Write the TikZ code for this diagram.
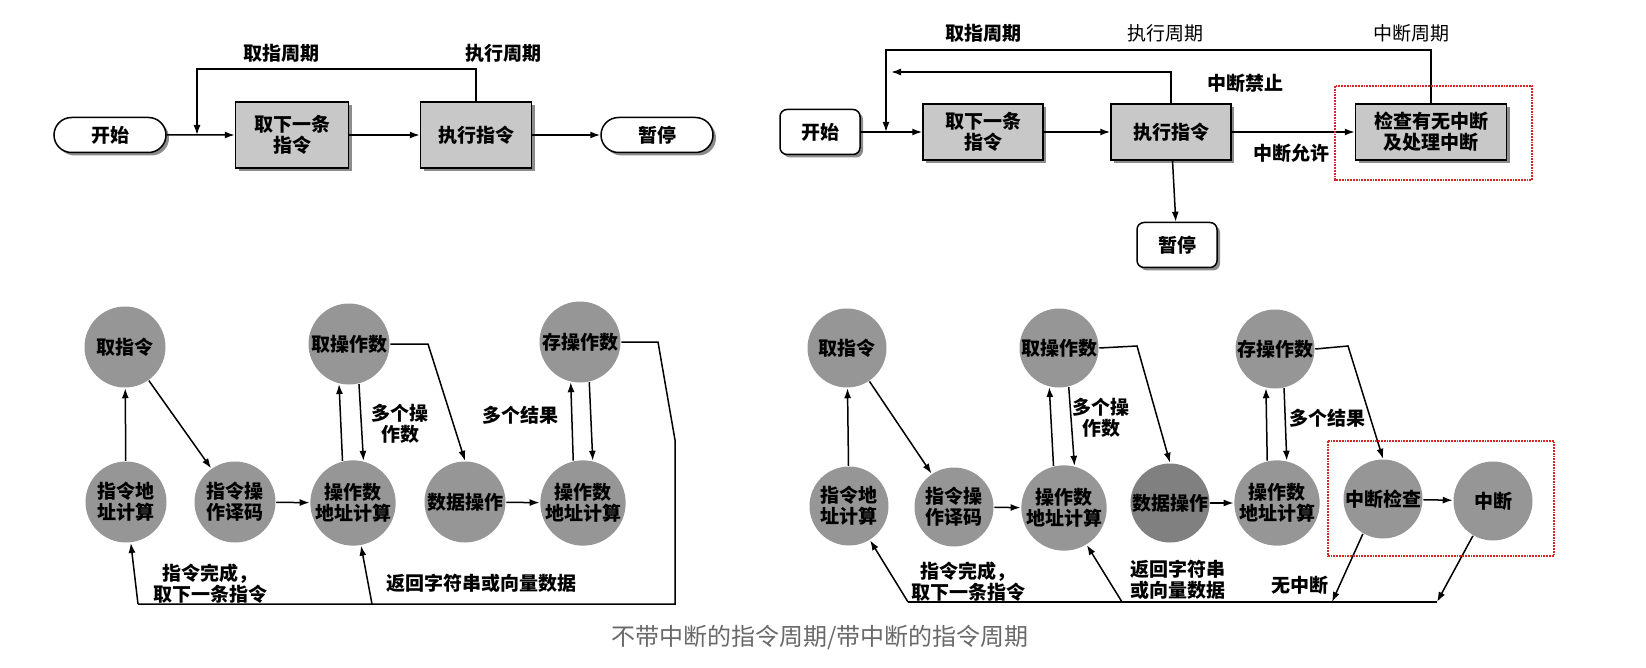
\documentclass[tikz,border=0pt]{standalone}
\usepackage{fontspec}
\newfontfamily\cjk{Noto Sans CJK SC}
\usetikzlibrary{arrows.meta,shapes.misc,shadows}
\definecolor{boxgray}{RGB}{200,200,200}
\definecolor{circgray}{RGB}{150,150,150}
\definecolor{circdark}{RGB}{128,128,128}
\definecolor{dotred}{RGB}{210,40,40}
\definecolor{capgray}{RGB}{105,105,105}

\begin{document}
\begin{tikzpicture}[x=1pt,y=-1pt,>={Latex[length=10pt,width=7pt]},line width=1.5pt,
  txt/.style={font=\cjk\bfseries\fontsize{19}{21}\selectfont,align=center,inner sep=0pt},
  thintxt/.style={font=\cjk\fontsize{19}{21}\selectfont,align=center,inner sep=0pt},
  shadowed/.style={drop shadow={shadow xshift=3pt,shadow yshift=-3pt,fill=black!45,opacity=1}},
  pill/.style={txt,draw,rounded rectangle,fill=white,minimum width=112pt,minimum height=35pt,shadowed},
  rbox/.style={txt,draw,rounded corners=7pt,fill=white,minimum width=80pt,minimum height=45pt,shadowed},
  gbox/.style={txt,draw,fill=boxgray,minimum width=120pt,minimum height=56pt,shadowed},
  circ/.style={txt,circle,fill=circgray,minimum size=81pt}]
  \useasboundingbox (0,0) rectangle (1646,668);

  % top left: cycle without interrupt
  \node[pill] (tl-start) at (110,135) {开始};
  \node[gbox,minimum width=113pt,minimum height=66pt] (tl-fetch) at (292,135) {取下一条\\指令};
  \node[gbox,minimum width=111pt,minimum height=66pt] (tl-exec) at (476,135) {执行指令};
  \node[pill] (tl-halt) at (657,135) {暂停};
  \coordinate (tl-top) at (197,69);
  \coordinate (tl-in) at (197,135);
  \draw[->] (tl-start) -- (tl-fetch);
  \draw[->] (tl-fetch) -- (tl-exec);
  \draw[->] (tl-exec) -- (tl-halt);
  \draw[->] (tl-exec.north) |- (tl-top) -- (tl-in);
  \node[txt] (tl-lf) at (281,53) {取指周期};
  \node[txt] (tl-le) at (503,53) {执行周期};

  % top right: cycle with interrupt
  \node[rbox] (tr-start) at (820,132) {开始};
  \node[gbox] (tr-fetch) at (983,132) {取下一条\\指令};
  \node[gbox] (tr-exec) at (1171,132) {执行指令};
  \node[gbox,minimum width=151pt] (tr-check) at (1431,132) {检查有无中断\\及处理中断};
  \node[rbox] (tr-halt) at (1177,245) {暂停};
  \coordinate (tr-top) at (886,50);
  \coordinate (tr-in) at (886,132);
  \coordinate (tr-back) at (891,72);
  \draw[->] (tr-start) -- (tr-fetch);
  \draw[->] (tr-fetch) -- (tr-exec);
  \draw[->] (tr-exec) -- (tr-check);
  \draw[->] (tr-exec) -- (tr-halt);
  \draw[->] (tr-check.north) |- (tr-top) -- (tr-in);
  \draw[->] (tr-exec.north) |- (tr-back);
  \node[txt] (tr-lf) at (983,33) {取指周期};
  \node[thintxt] (tr-le) at (1165,33) {执行周期};
  \node[thintxt] (tr-li) at (1411,33) {中断周期};
  \node[txt] (tr-off) at (1245,83) {中断禁止};
  \node[txt] (tr-on) at (1291,153) {中断允许};
  \draw[dotred,densely dotted,line width=1.8pt] (1335,86) rectangle (1532,180);

  % bottom left: state diagram without interrupt
  \node[circ] (a1) at (125,347) {取指令};
  \node[circ] (a2) at (126,502) {指令地\\址计算};
  \node[circ] (a3) at (235,502) {指令操\\作译码};
  \node[circ] (a4) at (353,503) {操作数\\地址计算};
  \node[circ] (a5) at (349,344) {取操作数};
  \node[circ] (a6) at (465,502) {数据操作};
  \node[circ] (a7) at (583,503) {操作数\\地址计算};
  \node[circ] (a8) at (580,342) {存操作数};
  \coordinate (a-b1) at (428,344);
  \coordinate (a-r1) at (658,342);
  \coordinate (a-r2) at (675,440);
  \coordinate (a-r3) at (675,604);
  \coordinate (a-r4) at (138,604);
  \coordinate (a-r5) at (372,604);
  \draw[->] (a2) -- (a1);
  \draw[->] (a1) -- (a3);
  \draw[->] (a3) -- (a4);
  \draw[->] (a4.104) -- (a5.256);
  \draw[->] (a5.284) -- (a4.76);
  \draw[->] (a5.east) -- (a-b1) -- (a6.north);
  \draw[->] (a6) -- (a7);
  \draw[->] (a7.103) -- (a8.257);
  \draw[->] (a8.283) -- (a7.77);
  \draw (a8.east) -- (a-r1) -- (a-r2) -- (a-r3) -- (a-r4);
  \draw[->] (a-r4) -- (a2);
  \draw[->] (a-r5) -- (a4);
  \node[txt] (a-l1) at (400,424) {多个操\\作数};
  \node[txt] (a-l2) at (520,415) {多个结果};
  \node[txt] (a-l3) at (210,584) {指令完成，\\取下一条指令};
  \node[txt] (a-l4) at (481,583) {返回字符串或向量数据};

  % bottom right: state diagram with interrupt
  \node[circ,minimum size=79pt] (b1) at (847,348) {取指令};
  \node[circ,minimum size=79pt] (b2) at (849,506) {指令地\\址计算};
  \node[circ,minimum size=79pt] (b3) at (954,507) {指令操\\作译码};
  \node[circ,minimum size=79pt] (b4) at (1064,508) {操作数\\地址计算};
  \node[circ,minimum size=79pt] (b5) at (1059,348) {取操作数};
  \node[circ,minimum size=79pt,fill=circdark] (b6) at (1170,503) {数据操作};
  \node[circ,minimum size=79pt] (b7) at (1277,503) {操作数\\地址计算};
  \node[circ,minimum size=79pt] (b8) at (1275,349) {存操作数};
  \node[circ,minimum size=79pt] (b9) at (1383,499) {中断检查};
  \node[circ,minimum size=79pt] (b10) at (1493,501) {中断};
  \coordinate (b-b1) at (1137,346);
  \coordinate (b-b2) at (1348,346);
  \coordinate (b-no) at (1332,602);
  \coordinate (b-r1) at (1437,602);
  \coordinate (b-r2) at (908,602);
  \coordinate (b-r3) at (1122,602);
  \draw[->] (b2) -- (b1);
  \draw[->] (b1) -- (b3);
  \draw[->] (b3) -- (b4);
  \draw[->] (b4.104) -- (b5.256);
  \draw[->] (b5.284) -- (b4.76);
  \draw[->] (b5.east) -- (b-b1) -- (b6.north);
  \draw[->] (b6) -- (b7);
  \draw[->] (b7.103) -- (b8.257);
  \draw[->] (b8.283) -- (b7.77);
  \draw[->] (b8.east) -- (b-b2) -- (b9.north);
  \draw[->] (b9) -- (b10);
  \draw[->] (b9.240) -- (b-no);
  \draw[->] (b10.240) -- (b-r1);
  \draw (b-r1) -- (b-r2);
  \draw[->] (b-r2) -- (b2);
  \draw[->] (b-r3) -- (b4);
  \node[txt] (b-l1) at (1101,418) {多个操\\作数};
  \node[txt] (b-l2) at (1327,418) {多个结果};
  \node[txt] (b-l3) at (968,582) {指令完成，\\取下一条指令};
  \node[txt] (b-l4) at (1178,580) {返回字符串\\或向量数据};
  \node[txt] (b-l5) at (1300,585) {无中断};
  \draw[dotred,densely dotted,line width=1.8pt] (1328,441) rectangle (1554,556);

  % caption
  \node[font=\cjk\fontsize{24}{26}\selectfont,text=capgray] (cap) at (820,638) {不带中断的指令周期/带中断的指令周期};
\end{tikzpicture}
\end{document}
